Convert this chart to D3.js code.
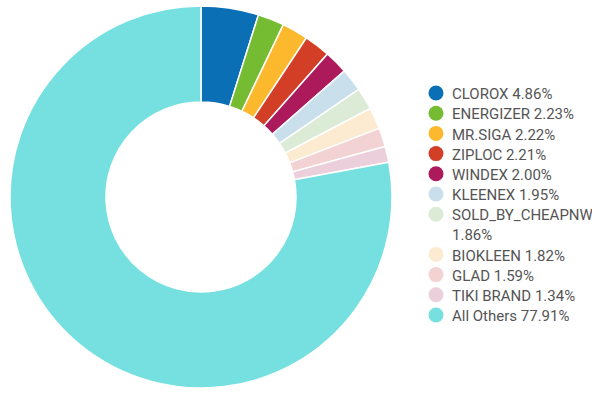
<!DOCTYPE html>
<html><head><meta charset="utf-8">
<script src="https://cdn.jsdelivr.net/npm/d3@7"></script>
<style>body{margin:0;background:#fff}svg{display:block}</style>
</head><body>
<script>
const labels = ["CLOROX","ENERGIZER","MR.SIGA","ZIPLOC","WINDEX","KLEENEX","SOLD_BY_CHEAPNW","BIOKLEEN","GLAD","TIKI BRAND","All Others"];
const values = [4.86,2.23,2.22,2.21,2.00,1.95,1.86,1.82,1.59,1.34,77.91];
const colors = ["#0b6fb5","#76bc33","#fdb92e","#d23f26","#ad1a5c","#cadfec","#dcebd6","#fcebd1","#f2d2d2","#ebcfdb","#76e0e0"];

const W=592,H=398;
const svg=d3.select("body").append("svg").attr("width",W).attr("height",H);
const data=labels.map((l,i)=>({label:l,value:values[i],color:colors[i]}));
const pie=d3.pie().value(d=>d.value).sort(null);
const arc=d3.arc().innerRadius(95).outerRadius(191);
const g=svg.append("g").attr("transform","translate(201,197)");
g.selectAll("path").data(pie(data)).join("path")
 .attr("d",arc).attr("fill",d=>d.data.color)
 .attr("stroke","#fff").attr("stroke-width",1.5);

const lg=svg.append("g").attr("font-family","Roboto, sans-serif").attr("font-size",15).attr("fill","#555");
let y=93;
data.forEach((d,i)=>{
  lg.append("circle").attr("cx",436).attr("cy",y).attr("r",7.5).attr("fill",d.color);
  const pct=d.value.toFixed(2)+"%";
  if(d.label.length>12){
    lg.append("text").attr("x",452).attr("y",y+1).attr("dy","0.35em").text(d.label);
    y+=20;
    lg.append("text").attr("x",452).attr("y",y+1).attr("dy","0.35em").text(pct);
  } else {
    lg.append("text").attr("x",452).attr("y",y+1).attr("dy","0.35em").text(d.label+" "+pct);
  }
  y+=20.2;
});
</script>
</body></html>
